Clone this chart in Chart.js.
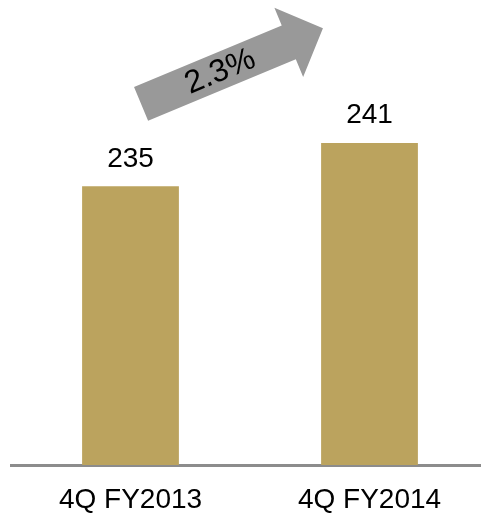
<!DOCTYPE html>
<html>
<head>
<meta charset="utf-8">
<script src="https://cdn.jsdelivr.net/npm/chart.js@4"></script>
<style>
  body { margin: 0; overflow: hidden; background: #fff; }
  #wrap { width: 490px; height: 516px; }
</style>
</head>
<body>
<div id="wrap"><canvas id="growthChart" width="490" height="516"></canvas></div>
<script>
// Data
const quarters = ['4Q FY2013', '4Q FY2014'];
const values = [235, 241];
const growthLabel = '2.3%';

const barColor = '#bba35e';
const arrowColor = '#999999';
const font = '"Liberation Sans", Arial, sans-serif';

// Angka di atas batang
const valueLabels = {
    id: 'valueLabels',
    afterDatasetsDraw(chart) {
        const ctx = chart.ctx;
        const bars = chart.getDatasetMeta(0).data;
        ctx.save();
        ctx.fillStyle = '#000';
        ctx.font = '28px ' + font;
        ctx.textAlign = 'center';
        ctx.textBaseline = 'alphabetic';
        bars.forEach((bar, i) => {
            ctx.fillText(values[i], bar.x, bar.y - 19.5);
        });
        ctx.restore();
    }
};

// Panah pertumbuhan
const growthArrow = {
    id: 'growthArrow',
    afterDraw(chart) {
        const ctx = chart.ctx;
        const bars = chart.getDatasetMeta(0).data;
        const cx = (bars[0].x + bars[1].x) / 2 - 18;
        const cy = chart.chartArea.top + 66;
        const len = 197, head = 37, shaft = 18.3, headHalf = 37.4;
        ctx.save();
        ctx.translate(cx, cy);
        ctx.rotate(-22.6 * Math.PI / 180);
        ctx.fillStyle = arrowColor;
        ctx.beginPath();
        ctx.moveTo(-len / 2, -shaft);
        ctx.lineTo(len / 2 - head, -shaft);
        ctx.lineTo(len / 2 - head, -headHalf);
        ctx.lineTo(len / 2, 0);
        ctx.lineTo(len / 2 - head, headHalf);
        ctx.lineTo(len / 2 - head, shaft);
        ctx.lineTo(-len / 2, shaft);
        ctx.closePath();
        ctx.fill();
        ctx.fillStyle = '#000';
        ctx.font = '32px ' + font;
        ctx.textAlign = 'center';
        ctx.textBaseline = 'middle';
        ctx.fillText(growthLabel, -13, 1);
        ctx.restore();
    }
};

const ctx = document.getElementById('growthChart').getContext('2d');
new Chart(ctx, {
    type: 'bar',
    data: {
        labels: quarters,
        datasets: [{
            data: values,
            backgroundColor: barColor,
            borderWidth: 0,
            barPercentage: 0.405,
            categoryPercentage: 1
        }]
    },
    options: {
        responsive: false,
        animation: false,
        layout: { padding: { left: 11, right: 1, top: 0, bottom: 0 } },
        plugins: {
            legend: { display: false },
            title: { display: false },
            tooltip: { enabled: false }
        },
        scales: {
            x: {
                grid: { display: false, drawTicks: false },
                border: { display: true, color: '#8c8c8c', width: 3 },
                ticks: {
                    color: '#000',
                    padding: 18,
                    font: { family: font, size: 28 }
                },
                afterFit(scale) { scale.height = 51; }
            },
            y: {
                display: false,
                min: 196.4,
                max: 260.8
            }
        }
    },
    plugins: [valueLabels, growthArrow]
});
</script>
</body>
</html>
